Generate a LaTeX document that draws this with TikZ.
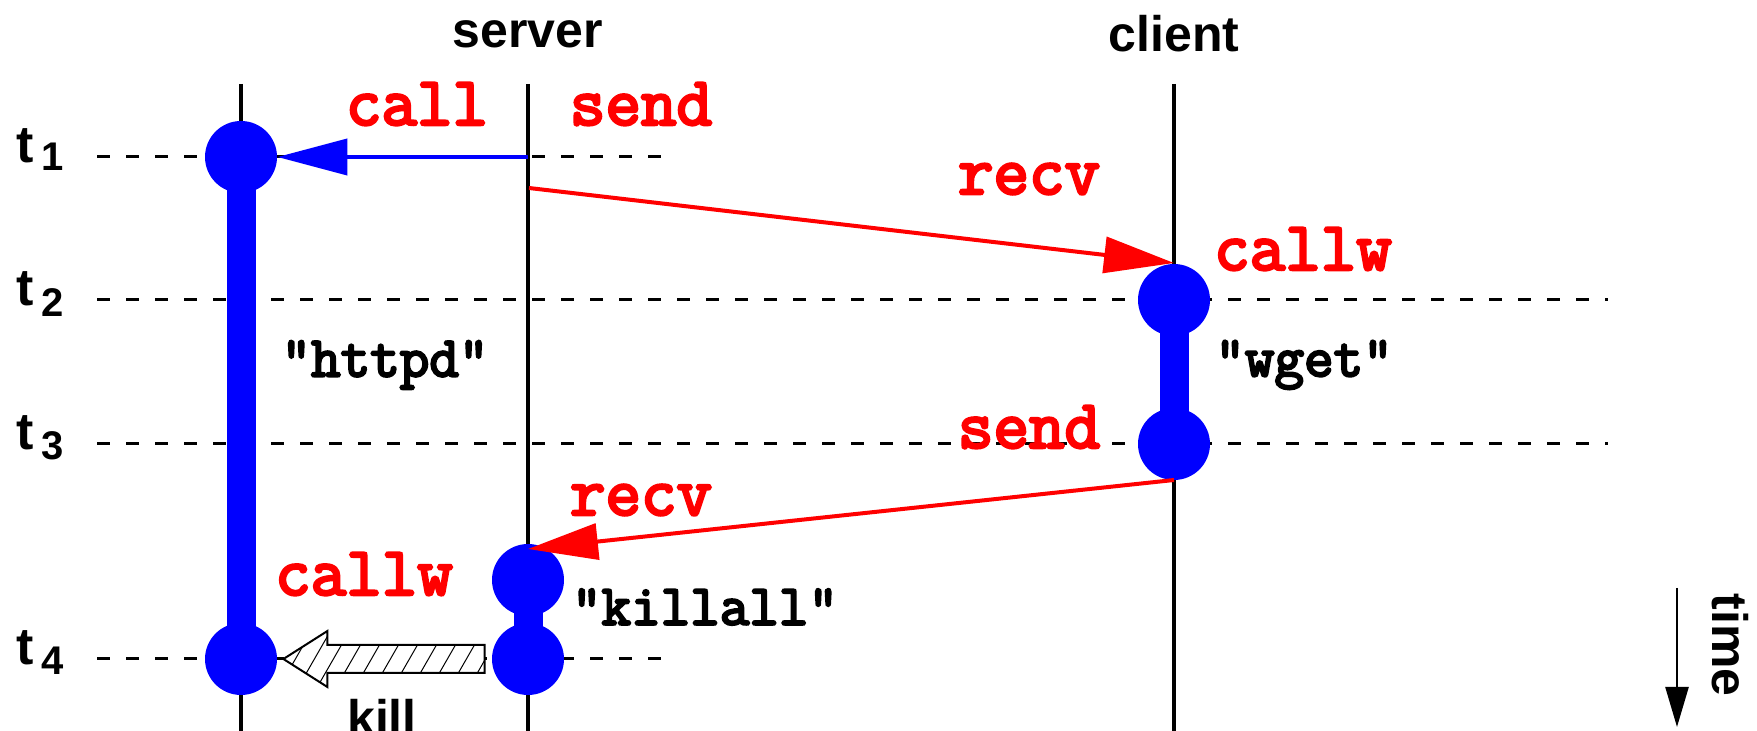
\documentclass[tikz,border=0pt]{standalone}
\usepackage{fontspec}
\setsansfont{Liberation Sans}
\newfontfamily\codefont{Latin Modern Mono}[FakeBold=4]
\usetikzlibrary{arrows.meta,calc}
\begin{document}
\begin{tikzpicture}[x=0.5pt,y=-0.5pt,
  lifeline/.style={line width=2pt},
  timeline/.style={line width=1.5pt,dash pattern=on 6.5pt off 8pt},
  dot/.style={circle,fill=blue,inner sep=0pt,minimum size=36pt},
  bar/.style={blue,line width=14.5pt},
  msg/.style={line width=2pt,-{Triangle[length=35pt,width=18pt]}},
  act/.style={red,inner sep=0pt,font=\codefont\fontsize{34.5}{34.5}\selectfont},
  proc/.style={inner sep=0pt,font=\codefont\fontsize{28.7}{28.7}\selectfont},
  head/.style={inner sep=0pt,font=\sffamily\bfseries\fontsize{25}{25}\selectfont},
  tlab/.style={inner sep=0pt,font=\sffamily\bfseries\fontsize{26}{26}\selectfont},
  tsub/.style={inner sep=0pt,font=\sffamily\bfseries\fontsize{20}{20}\selectfont},
  hatch/.style={line width=0.5pt},
]
\useasboundingbox (0,0) rectangle (1757,731);

% event positions
\coordinate (p1) at (241,157);
\coordinate (p4) at (241,659);
\coordinate (w1) at (1174,300);
\coordinate (w2) at (1174,444);
\coordinate (k1) at (528,580);
\coordinate (k2) at (528,659);

% time marks
\coordinate (d1a) at (97,157);  \coordinate (d1b) at (661,157);
\coordinate (d2a) at (97,300);  \coordinate (d2b) at (1608,300);
\coordinate (d3a) at (97,444);  \coordinate (d3b) at (1608,444);
\coordinate (d4a) at (97,659);  \coordinate (d4b) at (661,659);
\draw[timeline] (d1a) -- (d1b);
\draw[timeline] (d2a) -- (d2b);
\draw[timeline] (d3a) -- (d3b);
\draw[timeline] (d4a) -- (d4b);

% lifelines
\coordinate (Ltop) at (241,84);  \coordinate (Lbot) at (241,731);
\coordinate (Stop) at (528,84);  \coordinate (Sbot) at (528,731);
\coordinate (Ctop) at (1174,84); \coordinate (Cbot) at (1174,731);
\draw[lifeline] (Ltop) -- (Lbot);
\draw[lifeline] (Stop) -- (Sbot);
\draw[lifeline] (Ctop) -- (Cbot);

% process bars
\draw[bar] (p1) -- (p4);
\draw[bar] (w1) -- (w2);
\draw[bar] (k1) -- (k2);

% events
\node[dot] (c1) at (p1) {};
\node[dot] (c4) at (p4) {};
\node[dot] (cw1) at (w1) {};
\node[dot] (cw2) at (w2) {};
\node[dot] (ck1) at (k1) {};
\node[dot] (ck2) at (k2) {};

% messages
\coordinate (s1) at (528,157);
\draw[msg,blue] (s1) -- (c1);
\coordinate (s2) at (529,188);
\coordinate (r2) at (1174,263);
\draw[msg,red] (s2) -- (r2);
\coordinate (s3) at (1174,480);
\coordinate (r3) at (528,549);
\draw[msg,red] (s3) -- (r3);

% kill signal: hollow arrow with hatching
\path ($(ck2.west)+(-7,0)$) coordinate (ka) ($(c4.east)+(6,0)$) coordinate (kb);
\fill[white] ($(ka)+(0,-14)$) -- ($(kb)+(44,-14)$) -- ($(kb)+(44,-28)$) -- (kb)
    -- ($(kb)+(44,28)$) -- ($(kb)+(44,14)$) -- ($(ka)+(0,14)$) -- cycle;
\begin{scope}
  \clip ($(ka)+(0,-14)$) -- ($(kb)+(44,-14)$) -- ($(kb)+(44,-28)$) -- (kb)
    -- ($(kb)+(44,28)$) -- ($(kb)+(44,14)$) -- ($(ka)+(0,14)$) -- cycle;
  \foreach \i in {0,...,15}
    \draw[hatch] ($(kb)+(-30+19*\i,40)$) -- ++(46,-80);
\end{scope}
\draw[line width=1pt,line join=miter]
  ($(ka)+(0,-14)$) -- ($(kb)+(44,-14)$) -- ($(kb)+(44,-28)$) -- (kb)
  -- ($(kb)+(44,28)$) -- ($(kb)+(44,14)$) -- ($(ka)+(0,14)$) -- cycle;

% time axis
\coordinate (ta) at (1677,588);
\coordinate (tb) at (1677,727);
\draw[line width=1.2pt,-{Triangle[length=20pt,width=11.5pt]}] (ta) -- (tb);
\node[head,rotate=-90] (tm) at (1730,645) {time};

% headings
\node[head] (srv) at (528,34) {server};
\node[head] (cli) at (1174,34) {client};

% time labels
\node[tlab] (t1) at (25,146) {t};  \node[tsub] (t1s) at (53,157) {1};
\node[tlab] (t2) at (25,289) {t};  \node[tsub] (t2s) at (53,303) {2};
\node[tlab] (t3) at (25,433) {t};  \node[tsub] (t3s) at (53,446) {3};
\node[tlab] (t4) at (25,648) {t};  \node[tsub] (t4s) at (53,661) {4};

% operations
\node[act] (callA) at (417,104) {call};
\node[act] (sendA) at (641,104) {send};
\node[act] (recvA) at (1029,179) {recv};
\node[act] (callwB) at (1303,249) {callw};
\node[act] (sendB) at (1029,427) {send};
\node[act] (recvB) at (641,500) {recv};
\node[act] (callwA) at (364,574) {callw};

% processes
\node[proc] (httpd) at (385,365) {"httpd"};
\node[proc] (wget) at (1304,365) {"wget"};
\node[proc] (killall) at (705,607) {"killall"};
\node[head] (killlbl) at (382,717) {kill};
\end{tikzpicture}
\end{document}
